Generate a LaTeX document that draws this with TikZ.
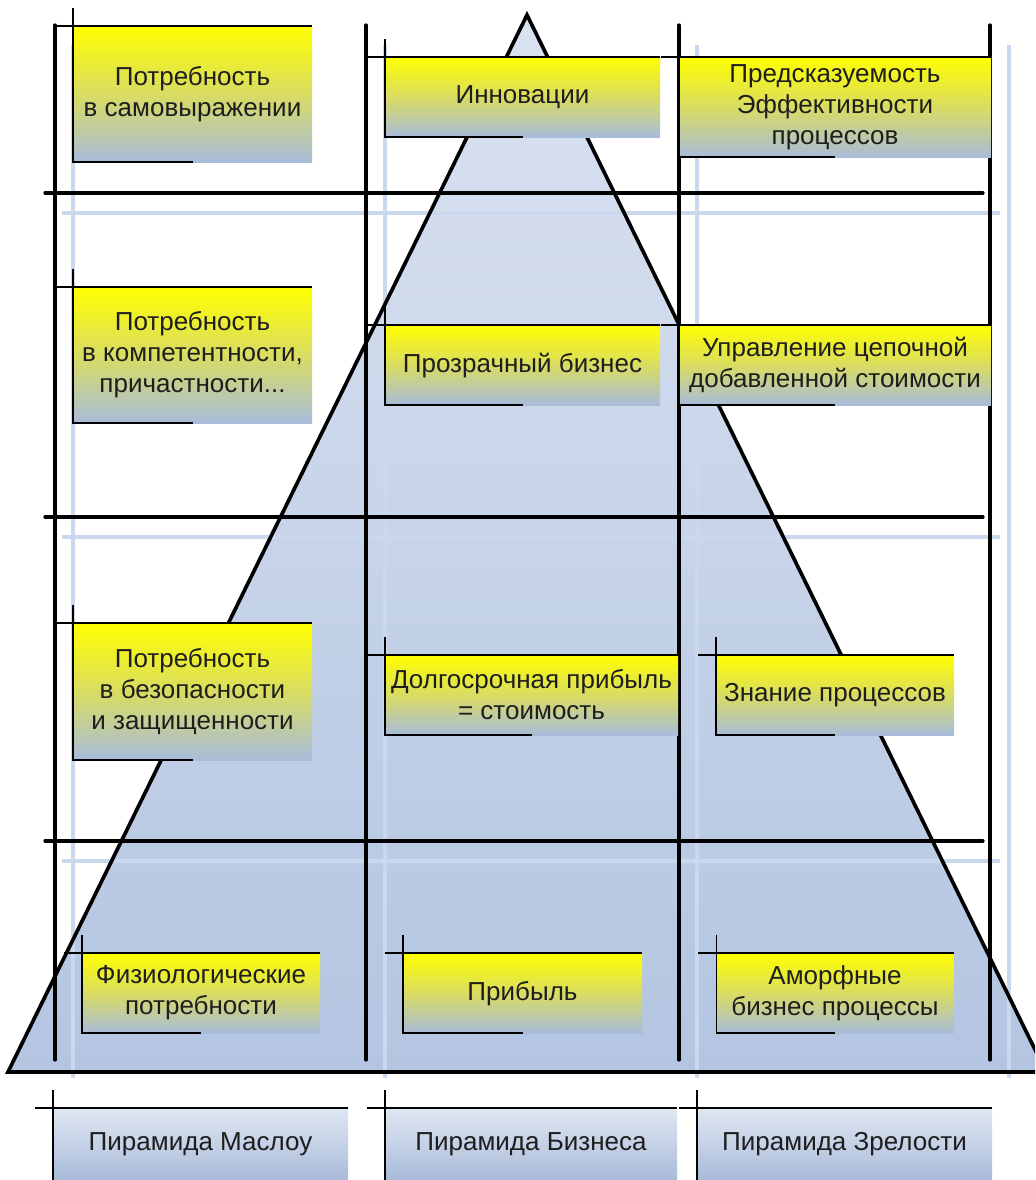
\documentclass[tikz,border=0pt]{standalone}
\usepackage{fontspec}
\setmainfont{Liberation Sans}
\usetikzlibrary{positioning}
\definecolor{pyrtop}{HTML}{DAE2F0}
\definecolor{pyrbot}{HTML}{B3C5E1}
\definecolor{ytop}{HTML}{FFFF00}
\definecolor{ymid}{HTML}{D9DC62}
\definecolor{ybot}{HTML}{A8BCDB}
\definecolor{ltop}{HTML}{E0E7F3}
\definecolor{lbot}{HTML}{A9BBD9}
\definecolor{pale}{HTML}{CAD8EE}
\definecolor{ink}{HTML}{1E1E1E}

\begin{document}
\begin{tikzpicture}[x=0.025cm,y=-0.025cm,node distance=1cm]
	\tikzstyle{grid}=[line width=2.3pt,line cap=round]
	\tikzstyle{guide}=[line width=2.6pt,pale]
	\tikzstyle{edge}=[line width=1.1pt]
	\tikzstyle{level}=[rectangle,inner sep=0pt,outer sep=0pt,align=center,text=ink,font=\fontsize{18.5}{22}\selectfont,top color=ytop,bottom color=ybot,middle color=ymid]
	\tikzstyle{pyrname}=[rectangle,inner sep=0pt,outer sep=0pt,text=ink,font=\fontsize{18.5}{22}\selectfont,top color=ltop,bottom color=lbot,minimum height=1.8cm]
	\clip (0,0) rectangle (1035,1180);
	% pyramid
	\shade[top color=pyrtop,bottom color=pyrbot] (527,15) -- (1046,1072) -- (8,1072) -- cycle;
	% guides
	\draw[guide] (73,45) -- (73,1078);
	\draw[guide] (385,45) -- (385,1078);
	\draw[guide] (697,45) -- (697,1078);
	\draw[guide] (1009,45) -- (1009,1078);
	\draw[guide] (62,213) -- (1000,213);
	\draw[guide] (62,537) -- (1000,537);
	\draw[guide] (62,861) -- (1000,861);
	% columns and rows
	\draw[grid] (55,25) -- (55,1060);
	\draw[grid] (366,25) -- (366,1060);
	\draw[grid] (679,25) -- (679,1060);
	\draw[grid] (990,25) -- (990,1060);
	\draw[grid] (45,193) -- (983,193);
	\draw[grid] (45,517) -- (983,517);
	\draw[grid] (45,841) -- (983,841);
	\draw[grid,line width=2.6pt,line join=miter] (527,15) -- (1046,1072) -- (8,1072) -- cycle;
	% levels
	\node[level, minimum width=5.975cm, minimum height=3.4cm] (self) at (192.5,94) {Потребность\\в самовыражении};
		\draw[edge] ([xshift=-0.46cm]self.north west) -- (self.north east);
		\draw[edge] ([yshift=0.46cm]self.north west) |- (self.south);
	\node[level, minimum width=6.875cm, minimum height=2cm] (innov) at (522.5,97) {Инновации};
		\draw[edge] ([xshift=-0.46cm]innov.north west) -- (innov.north east);
		\draw[edge] ([yshift=0.46cm]innov.north west) |- (innov.south);
	\node[level, minimum width=7.8cm, minimum height=2.5cm] (predict) at (835,107) {Предсказуемость\\Эффективности\\процессов};
		\draw[edge] ([xshift=-0.46cm]predict.north west) -- (predict.north east);
		\draw[edge] ([yshift=0.46cm]predict.north west) |- (predict.south);
	\node[level, minimum width=5.975cm, minimum height=3.4cm, below=3.125cm of self] (belong) {Потребность\\в компетентности,\\причастности...};
		\draw[edge] ([xshift=-0.46cm]belong.north west) -- (belong.north east);
		\draw[edge] ([yshift=0.46cm]belong.north west) |- (belong.south);
	\node[level, minimum width=6.875cm, minimum height=2cm, below=4.7cm of innov] (transp) {Прозрачный бизнес};
		\draw[edge] ([xshift=-0.46cm]transp.north west) -- (transp.north east);
		\draw[edge] ([yshift=0.46cm]transp.north west) |- (transp.south);
	\node[level, minimum width=7.8cm, minimum height=2cm, below=4.2cm of predict] (chain) {Управление цепочной\\добавленной стоимости};
		\draw[edge] ([xshift=-0.46cm]chain.north west) -- (chain.north east);
		\draw[edge] ([yshift=0.46cm]chain.north west) |- (chain.south);
	\node[level, minimum width=5.975cm, minimum height=3.425cm, below=5cm of belong] (safety) {Потребность\\в безопасности\\и защищенности};
		\draw[edge] ([xshift=-0.46cm]safety.north west) -- (safety.north east);
		\draw[edge] ([yshift=0.46cm]safety.north west) |- (safety.south);
	\node[level, minimum width=7.325cm, minimum height=2cm] (longp) at (531.5,695) {Долгосрочная прибыль\\= стоимость};
		\draw[edge] ([xshift=-0.46cm]longp.north west) -- (longp.north east);
		\draw[edge] ([yshift=0.46cm]longp.north west) |- (longp.south);
	\node[level, minimum width=5.95cm, minimum height=2cm, below=6.25cm of chain] (know) {Знание процессов};
		\draw[edge] ([xshift=-0.46cm]know.north west) -- (know.north east);
		\draw[edge] ([yshift=0.46cm]know.north west) |- (know.south);
	\node[level, minimum width=5.95cm, minimum height=2cm] (physio) at (201,993) {Физиологические\\потребности};
		\draw[edge] ([xshift=-0.46cm]physio.north west) -- (physio.north east);
		\draw[edge] ([yshift=0.46cm]physio.north west) |- (physio.south);
	\node[level, minimum width=5.975cm, minimum height=2cm, below=13.7cm of transp] (profit) {Прибыль};
		\draw[edge] ([xshift=-0.46cm]profit.north west) -- (profit.north east);
		\draw[edge] ([yshift=0.46cm]profit.north west) |- (profit.south);
	\node[level, minimum width=5.925cm, minimum height=2cm, below=5.45cm of know] (amorph) {Аморфные\\бизнес процессы};
		\draw[edge] ([xshift=-0.46cm]amorph.north west) -- (amorph.north east);
		\draw[edge] ([yshift=0.46cm]amorph.north west) |- (amorph.south);
	% pyramid names
	\node[pyrname, minimum width=7.375cm] (maslow) at (200.5,1144) {Пирамида Маслоу};
		\draw[edge] ([xshift=-0.46cm]maslow.north west) -- (maslow.north east);
		\draw[edge] ([yshift=0.46cm]maslow.north west) -- (maslow.south west);
	\node[pyrname, minimum width=7.3cm] (business) at (531,1144) {Пирамида Бизнеса};
		\draw[edge] ([xshift=-0.46cm]business.north west) -- (business.north east);
		\draw[edge] ([yshift=0.46cm]business.north west) -- (business.south west);
	\node[pyrname, minimum width=7.375cm] (maturity) at (844.5,1144) {Пирамида Зрелости};
		\draw[edge] ([xshift=-0.46cm]maturity.north west) -- (maturity.north east);
		\draw[edge] ([yshift=0.46cm]maturity.north west) -- (maturity.south west);
\end{tikzpicture}
\end{document}
